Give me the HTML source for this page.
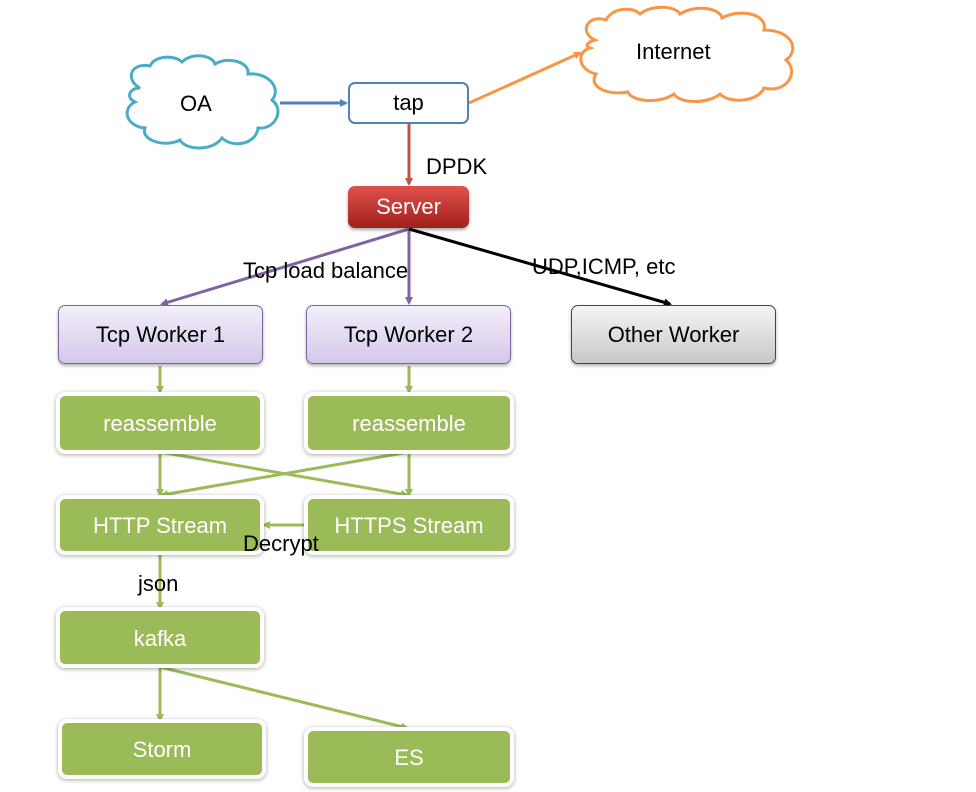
<!DOCTYPE html>
<html><head><meta charset="utf-8"><style>
body{margin:0;width:976px;height:792px;background:#fff;overflow:hidden;position:relative;font-family:"Liberation Sans",sans-serif}
.b{position:absolute;display:flex;align-items:center;justify-content:center;font-size:22px;box-sizing:border-box;border-radius:7px}
.g{background:#9bbb59;color:#fff;border:4px solid #fff;box-shadow:0 1px 4px rgba(0,0,0,.35);border-radius:9px;padding-top:2px}
.p{background:linear-gradient(#f3effa,#d4c8ea);border:1.5px solid #8064a2;color:#000;box-shadow:0 2px 3px rgba(0,0,0,.3)}
.t{position:absolute;font-size:22px;color:#000;white-space:nowrap}
svg{position:absolute;left:0;top:0}
</style></head><body>
<svg width="976" height="792">
<defs>
<marker id="ab" markerWidth="8" markerHeight="8" refX="6" refY="4" orient="auto" markerUnits="userSpaceOnUse"><path d="M0,0L8,4L0,8z" fill="#4f81bd"/></marker>
<marker id="ao" markerWidth="8" markerHeight="8" refX="6" refY="4" orient="auto" markerUnits="userSpaceOnUse"><path d="M0,0L8,4L0,8z" fill="#f79646"/></marker>
<marker id="ar" markerWidth="8" markerHeight="8" refX="6" refY="4" orient="auto" markerUnits="userSpaceOnUse"><path d="M0,0L8,4L0,8z" fill="#c0504d"/></marker>
<marker id="ap" markerWidth="8" markerHeight="8" refX="6" refY="4" orient="auto" markerUnits="userSpaceOnUse"><path d="M0,0L8,4L0,8z" fill="#8064a2"/></marker>
<marker id="ak" markerWidth="8" markerHeight="8" refX="6" refY="4" orient="auto" markerUnits="userSpaceOnUse"><path d="M0,0L8,4L0,8z" fill="#000"/></marker>
<marker id="ag" markerWidth="8" markerHeight="8" refX="6" refY="4" orient="auto" markerUnits="userSpaceOnUse"><path d="M0,0L8,4L0,8z" fill="#9bbb59"/></marker>
</defs>
<path d="M140,88 C125,80 130,62 150,66 C155,55 175,55 182,62 C192,52 212,55 215,64 C228,56 250,62 248,74 C268,72 282,88 272,100 C285,110 275,130 258,128 C256,145 232,148 222,138 C212,152 185,150 180,140 C165,148 140,140 145,128 C125,126 122,108 135,102 C125,97 130,88 140,88Z" fill="#fff" stroke="#4bacc6" stroke-width="3"/>
<path d="M595,40 C578,32 588,14 606,20 C612,8 632,6 640,14 C652,4 676,6 680,14 C696,4 720,8 722,18 C740,8 768,14 764,30 C792,30 800,50 786,60 C800,72 786,94 764,88 C758,102 730,104 720,94 C708,104 680,104 674,94 C660,104 632,102 628,92 C606,96 588,86 596,74 C578,70 576,52 590,48 C584,46 588,42 595,40Z" fill="#fff" stroke="#f79646" stroke-width="3"/>
<g stroke-width="3" fill="none">
<line x1="280" y1="103" x2="346" y2="103" stroke="#4f81bd" marker-end="url(#ab)"/>
<line x1="469" y1="103" x2="580" y2="53" stroke="#f79646" marker-end="url(#ao)"/>
<line x1="409" y1="124" x2="409" y2="184" stroke="#c0504d" marker-end="url(#ar)"/>
<line x1="409" y1="229" x2="162" y2="304" stroke="#8064a2" marker-end="url(#ap)"/>
<line x1="409" y1="229" x2="409" y2="303" stroke="#8064a2" marker-end="url(#ap)"/>
<line x1="409" y1="229" x2="670" y2="304" stroke="#000" marker-end="url(#ak)"/>
</g>
<g stroke="#9bbb59" stroke-width="3" fill="none">
<line x1="160" y1="366" x2="160" y2="392" marker-end="url(#ag)"/>
<line x1="409" y1="366" x2="409" y2="392" marker-end="url(#ag)"/>
<line x1="160" y1="452" x2="160" y2="495" marker-end="url(#ag)"/>
<line x1="160" y1="452" x2="407" y2="495" marker-end="url(#ag)"/>
<line x1="409" y1="452" x2="409" y2="495" marker-end="url(#ag)"/>
<line x1="409" y1="452" x2="162" y2="495" marker-end="url(#ag)"/>
<line x1="306" y1="525" x2="264" y2="525" marker-end="url(#ag)"/>
<line x1="160" y1="553" x2="160" y2="608" marker-end="url(#ag)"/>
<line x1="160" y1="667" x2="160" y2="720" marker-end="url(#ag)"/>
<line x1="160" y1="667" x2="407" y2="728" marker-end="url(#ag)"/>
</g>
</svg>
<div class="t" style="left:180px;top:91px">OA</div>
<div class="t" style="left:636px;top:39px">Internet</div>
<div class="b" style="left:348px;top:82px;width:121px;height:42px;border:2px solid #4f81bd;background:#fff">tap</div>
<div class="t" style="left:426px;top:154px">DPDK</div>
<div class="b" style="left:348px;top:186px;width:121px;height:42px;background:linear-gradient(#e0524d,#a0201c);color:#fff;box-shadow:0 2px 3px rgba(0,0,0,.35)">Server</div>
<div class="t" style="left:243px;top:258px">Tcp load balance</div>
<div class="t" style="left:532px;top:254px">UDP,ICMP, etc</div>
<div class="b p" style="left:58px;top:305px;width:205px;height:59px">Tcp Worker 1</div>
<div class="b p" style="left:306px;top:305px;width:205px;height:59px">Tcp Worker 2</div>
<div class="b" style="left:571px;top:305px;width:205px;height:59px;background:linear-gradient(#f5f5f5,#c8c8c8);border:1.5px solid #444;box-shadow:0 2px 3px rgba(0,0,0,.3)">Other Worker</div>
<div class="b g" style="left:56px;top:392px;width:208px;height:62px">reassemble</div>
<div class="b g" style="left:304px;top:392px;width:210px;height:62px">reassemble</div>
<div class="b g" style="left:56px;top:495px;width:208px;height:60px">HTTP Stream</div>
<div class="b g" style="left:304px;top:495px;width:210px;height:60px">HTTPS Stream</div>
<div class="t" style="left:243px;top:531px">Decrypt</div>
<div class="t" style="left:138px;top:571px">json</div>
<div class="b g" style="left:56px;top:607px;width:208px;height:61px">kafka</div>
<div class="b g" style="left:58px;top:719px;width:208px;height:60px">Storm</div>
<div class="b g" style="left:304px;top:727px;width:210px;height:60px">ES</div>
</body></html>
